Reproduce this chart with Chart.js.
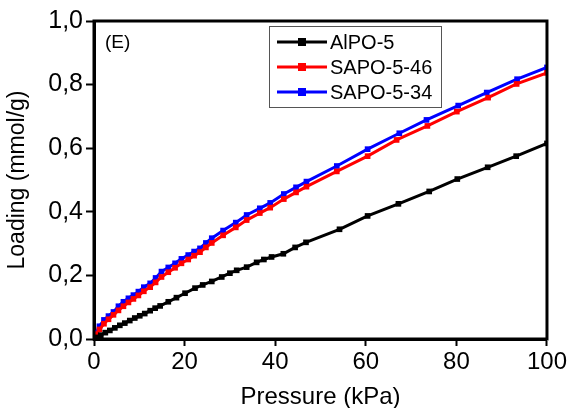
<!DOCTYPE html>
<html>
<head>
<meta charset="utf-8">
<script src="https://cdn.jsdelivr.net/npm/chart.js@4/dist/chart.umd.min.js"></script>
<style>
  html, body { margin: 0; padding: 0; background: #fff; }
  #wrap { width: 569px; height: 408px; position: relative; }
</style>
</head>
<body>
<div id="wrap"><canvas id="chart"></canvas></div>
<script>
// pressure (kPa) and loading (mmol/g)
const alpoPressure = [0.5, 1.5, 2.5, 3.5, 4.6, 5.7, 6.8, 7.9, 9, 10.1, 11.2, 12.4, 13.5, 14.6, 16.4, 18.2, 20.1, 22.3, 24, 26, 28.2, 30, 31.5, 33.7, 35.9, 37.5, 39.2, 41.8, 44.4, 46.8, 54.2, 60.4, 67.2, 74, 80.2, 86.9, 93.2, 100]
const alpoLoading = [0.005, 0.012, 0.02, 0.027, 0.035, 0.043, 0.05, 0.058, 0.066, 0.073, 0.08, 0.089, 0.097, 0.104, 0.117, 0.13, 0.144, 0.16, 0.17, 0.181, 0.195, 0.207, 0.216, 0.226, 0.241, 0.25, 0.258, 0.268, 0.288, 0.304, 0.345, 0.387, 0.425, 0.464, 0.503, 0.54, 0.575, 0.615]

const sapo46Pressure = [0.5, 1.2, 2.2, 3.2, 4.3, 5.4, 6.5, 7.6, 8.7, 9.8, 11, 12.4, 13.6, 14.9, 16.4, 17.9, 19.3, 20.8, 22.1, 23.4, 24.7, 26, 28.5, 31.3, 33.7, 36.6, 38.9, 41.9, 44.6, 46.9, 53.6, 60.4, 66.8, 73.6, 80.1, 87, 93.3, 100]
const sapo46Loading = [0.015, 0.03, 0.048, 0.062, 0.076, 0.09, 0.103, 0.115, 0.126, 0.137, 0.15, 0.163, 0.178, 0.195, 0.21, 0.224, 0.238, 0.25, 0.262, 0.273, 0.288, 0.302, 0.326, 0.351, 0.374, 0.396, 0.413, 0.44, 0.461, 0.479, 0.527, 0.575, 0.626, 0.67, 0.715, 0.759, 0.802, 0.837]

const sapo34Pressure = [0.5, 1.2, 2.2, 3.2, 4.3, 5.4, 6.5, 7.6, 8.7, 9.8, 11, 12.4, 13.6, 14.9, 16.4, 17.9, 19.3, 20.8, 22.1, 23.4, 24.7, 26, 28.5, 31.3, 33.7, 36.6, 38.9, 41.9, 44.6, 46.9, 53.6, 60.4, 67.4, 73.4, 80.4, 86.7, 93.4, 100]
const sapo34Loading = [0.02, 0.04, 0.06, 0.072, 0.085, 0.103, 0.117, 0.128, 0.138, 0.149, 0.163, 0.175, 0.192, 0.212, 0.225, 0.238, 0.252, 0.264, 0.275, 0.285, 0.302, 0.317, 0.341, 0.366, 0.39, 0.411, 0.428, 0.456, 0.477, 0.495, 0.544, 0.597, 0.647, 0.689, 0.734, 0.775, 0.817, 0.854]

const seriesNames = ["AlPO-5", "SAPO-5-46", "SAPO-5-34"]
const seriesColors = ["#000000", "#ff0000", "#0000ff"]

function toPoints(xs, ys) {
    return xs.map((x, i) => ({ x: x, y: ys[i] }))
}

const font = "'Liberation Sans', Arial, sans-serif"

function makeSet(i, xs, ys) {
    return {
        label: seriesNames[i],
        data: toPoints(xs, ys),
        showLine: true,
        borderColor: seriesColors[i],
        backgroundColor: seriesColors[i],
        borderWidth: 3,
        pointStyle: "rect",
        pointRadius: 4,
        pointBorderWidth: 0,
        tension: 0,
    }
}

// box around plot, the (E) tag and the legend
const framePlugin = {
    id: "frame",
    afterDatasetsDraw(chart) {
        const { ctx, chartArea: a } = chart
        ctx.save()
        ctx.strokeStyle = "#000"
        ctx.lineWidth = 3
        ctx.strokeRect(a.left, a.top, a.right - a.left, a.bottom - a.top)

        ctx.fillStyle = "#000"
        ctx.font = "19px " + font
        ctx.textBaseline = "middle"
        ctx.fillText("(E)", 105, 43)

        const lx = 269, ly = 26, lw = 172, lh = 81
        ctx.fillStyle = "#fff"
        ctx.fillRect(lx, ly, lw, lh)
        ctx.strokeStyle = "#555"
        ctx.lineWidth = 1
        ctx.strokeRect(lx + 0.5, ly + 0.5, lw, lh)

        ctx.font = "20px " + font
        seriesNames.forEach((name, i) => {
            const y = ly + 16 + i * 25
            ctx.strokeStyle = seriesColors[i]
            ctx.fillStyle = seriesColors[i]
            ctx.lineWidth = 3
            ctx.beginPath()
            ctx.moveTo(lx + 8, y)
            ctx.lineTo(lx + 58, y)
            ctx.stroke()
            ctx.fillRect(lx + 29, y - 4, 8, 8)
            ctx.fillStyle = "#000"
            ctx.fillText(name, lx + 61, y + 1)
        })
        ctx.restore()
    },
}

new Chart(document.getElementById("chart"), {
    type: "scatter",
    data: {
        datasets: [
            makeSet(0, alpoPressure, alpoLoading),
            makeSet(1, sapo46Pressure, sapo46Loading),
            makeSet(2, sapo34Pressure, sapo34Loading),
        ],
    },
    options: {
        responsive: true,
        maintainAspectRatio: false,
        animation: false,
        layout: { padding: { top: 21, right: 22, left: 0, bottom: 0 } },
        plugins: {
            legend: { display: false },
            tooltip: { enabled: false },
        },
        scales: {
            x: {
                type: "linear",
                min: 0,
                max: 100,
                afterFit(scale) {
                    scale.height = 69
                },
                border: { display: true, color: "#000", width: 3 },
                grid: {
                    drawOnChartArea: false,
                    drawTicks: true,
                    tickLength: 7,
                    tickColor: "#000",
                    tickWidth: 2,
                },
                ticks: {
                    stepSize: 20,
                    color: "#000",
                    padding: 2,
                    font: { family: font, size: 24 },
                },
                title: {
                    display: true,
                    text: "Pressure (kPa)",
                    color: "#000",
                    font: { family: font, size: 24 },
                    padding: { top: 0, bottom: -4 },
                },
            },
            y: {
                type: "linear",
                min: 0,
                max: 1,
                afterFit(scale) {
                    scale.width = 94
                },
                border: { display: true, color: "#000", width: 3 },
                grid: {
                    drawOnChartArea: false,
                    drawTicks: true,
                    tickLength: 8,
                    tickColor: "#000",
                    tickWidth: 2,
                },
                ticks: {
                    stepSize: 0.2,
                    color: "#000",
                    padding: 3,
                    font: { family: font, size: 25 },
                    callback(value) {
                        return value.toFixed(1).replace(".", ",")
                    },
                },
                title: {
                    display: true,
                    text: "Loading (mmol/g)",
                    color: "#000",
                    font: { family: font, size: 23 },
                    padding: { top: 4, bottom: 2 },
                },
            },
        },
    },
    plugins: [framePlugin],
})
</script>
</body>
</html>
